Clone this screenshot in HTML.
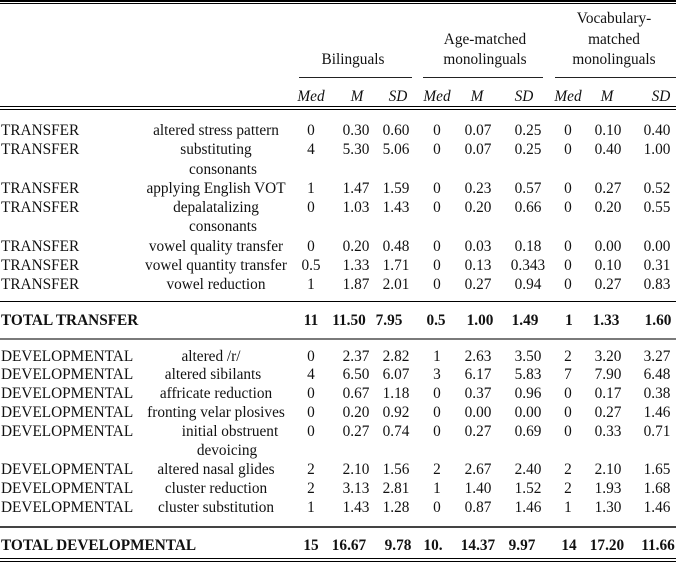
<!DOCTYPE html>
<html><head><meta charset="utf-8">
<style>
html,body{margin:0;padding:0;background:#fff;}
body{width:676px;height:564px;position:relative;overflow:hidden;font-family:"Liberation Serif","Times New Roman",serif;font-size:15.3px;color:#111;}
.r{position:absolute;left:0;width:676px;height:19px;line-height:19px;}
.r span{position:absolute;top:0;white-space:nowrap;text-align:center;width:80px;}
.r span.l{left:1px;text-align:left;width:auto;}
.r span.ds{left:136px;width:160px;}
.a{left:271px}.b{left:316px}.c{left:356px}.d{left:397px}.e{left:438px}.f{left:488px}.g{left:528px}.h{left:568px}.k{left:617px}
.bold{font-weight:bold;}
.i{font-style:italic;}
.hl{position:absolute;background:#000;left:0;width:676px;}
.t{position:absolute;white-space:nowrap;text-align:center;line-height:20px;}
</style></head><body>

<div class="hl" style="top:0;height:1.5px"></div>
<div class="hl" style="top:3px;height:1px"></div>

<div class="t" style="left:554px;width:120px;top:9px">Vocabulary-</div>
<div class="t" style="left:554px;width:120px;top:30px">matched</div>
<div class="t" style="left:554px;width:120px;top:50px">monolinguals</div>
<div class="t" style="left:425px;width:120px;top:30px">Age-matched</div>
<div class="t" style="left:425px;width:120px;top:50px">monolinguals</div>
<div class="t" style="left:293px;width:120px;top:50px">Bilinguals</div>

<div class="hl" style="top:77px;height:1.2px;left:299px;width:113px;background:#222"></div>
<div class="hl" style="top:77px;height:1.2px;left:423px;width:120px;background:#222"></div>
<div class="hl" style="top:77px;height:1.2px;left:555px;width:121px;background:#222"></div>

<div class="r i" style="top:87px"><span class="a">Med</span><span class="b" style="left:317px">M</span><span class="c" style="left:358px">SD</span><span class="d">Med</span><span class="e" style="left:437px">M</span><span class="f" style="left:484px">SD</span><span class="g">Med</span><span class="h" style="left:567px">M</span><span class="k" style="left:621px">SD</span></div>

<div class="hl" style="top:106px;height:1.3px"></div>
<div class="hl" style="top:109px;height:1px"></div>

<div class="r" style="top:121px"><span class="l">TRANSFER</span><span class="ds">altered stress pattern</span><span class="a">0</span><span class="b">0.30</span><span class="c">0.60</span><span class="d">0</span><span class="e">0.07</span><span class="f">0.25</span><span class="g">0</span><span class="h">0.10</span><span class="k">0.40</span></div>
<div class="r" style="top:140.25px"><span class="l">TRANSFER</span><span class="ds">substituting</span><span class="a">4</span><span class="b">5.30</span><span class="c">5.06</span><span class="d">0</span><span class="e">0.07</span><span class="f">0.25</span><span class="g">0</span><span class="h">0.40</span><span class="k">1.00</span></div>
<div class="r" style="top:159.5px"><span class="ds" style="left:143px">consonants</span></div>
<div class="r" style="top:178.75px"><span class="l">TRANSFER</span><span class="ds">applying English VOT</span><span class="a">1</span><span class="b">1.47</span><span class="c">1.59</span><span class="d">0</span><span class="e">0.23</span><span class="f">0.57</span><span class="g">0</span><span class="h">0.27</span><span class="k">0.52</span></div>
<div class="r" style="top:198px"><span class="l">TRANSFER</span><span class="ds">depalatalizing</span><span class="a">0</span><span class="b">1.03</span><span class="c">1.43</span><span class="d">0</span><span class="e">0.20</span><span class="f">0.66</span><span class="g">0</span><span class="h">0.20</span><span class="k">0.55</span></div>
<div class="r" style="top:217.25px"><span class="ds" style="left:143px">consonants</span></div>
<div class="r" style="top:236.5px"><span class="l">TRANSFER</span><span class="ds">vowel quality transfer</span><span class="a">0</span><span class="b">0.20</span><span class="c">0.48</span><span class="d">0</span><span class="e">0.03</span><span class="f">0.18</span><span class="g">0</span><span class="h">0.00</span><span class="k">0.00</span></div>
<div class="r" style="top:255.75px"><span class="l">TRANSFER</span><span class="ds">vowel quantity transfer</span><span class="a">0.5</span><span class="b">1.33</span><span class="c">1.71</span><span class="d">0</span><span class="e">0.13</span><span class="f">0.343</span><span class="g">0</span><span class="h">0.10</span><span class="k">0.31</span></div>
<div class="r" style="top:275px"><span class="l">TRANSFER</span><span class="ds">vowel reduction</span><span class="a">1</span><span class="b">1.87</span><span class="c">2.01</span><span class="d">0</span><span class="e">0.27</span><span class="f">0.94</span><span class="g">0</span><span class="h">0.27</span><span class="k">0.83</span></div>

<div class="hl" style="top:301px;height:1.2px"></div>

<div class="r bold" style="top:311px"><span class="l">TOTAL TRANSFER</span><span class="a">11</span><span class="b" style="left:309px">11.50</span><span class="c" style="left:349px">7.95</span><span class="d" style="left:396px">0.5</span><span class="e" style="left:440px">1.00</span><span class="f" style="left:485px">1.49</span><span class="g" style="left:529px">1</span><span class="h" style="left:566px">1.33</span><span class="k" style="left:618px">1.60</span></div>

<div class="hl" style="top:338px;height:1.8px;background:#7a7a7a"></div>

<div class="r" style="top:346.5px"><span class="l">DEVELOPMENTAL</span><span class="ds" style="left:131px">altered /r/</span><span class="a">0</span><span class="b">2.37</span><span class="c">2.82</span><span class="d">1</span><span class="e">2.63</span><span class="f">3.50</span><span class="g">2</span><span class="h">3.20</span><span class="k">3.27</span></div>
<div class="r" style="top:365.4px"><span class="l">DEVELOPMENTAL</span><span class="ds" style="left:133px">altered sibilants</span><span class="a">4</span><span class="b">6.50</span><span class="c">6.07</span><span class="d">3</span><span class="e">6.17</span><span class="f">5.83</span><span class="g">7</span><span class="h">7.90</span><span class="k">6.48</span></div>
<div class="r" style="top:384.3px"><span class="l">DEVELOPMENTAL</span><span class="ds">affricate reduction</span><span class="a">0</span><span class="b">0.67</span><span class="c">1.18</span><span class="d">0</span><span class="e">0.37</span><span class="f">0.96</span><span class="g">0</span><span class="h">0.17</span><span class="k">0.38</span></div>
<div class="r" style="top:403.2px"><span class="l">DEVELOPMENTAL</span><span class="ds">fronting velar plosives</span><span class="a">0</span><span class="b">0.20</span><span class="c">0.92</span><span class="d">0</span><span class="e">0.00</span><span class="f">0.00</span><span class="g">0</span><span class="h">0.27</span><span class="k">1.46</span></div>
<div class="r" style="top:422.1px"><span class="l">DEVELOPMENTAL</span><span class="ds" style="left:150px">initial obstruent</span><span class="a">0</span><span class="b">0.27</span><span class="c">0.74</span><span class="d">0</span><span class="e">0.27</span><span class="f">0.69</span><span class="g">0</span><span class="h">0.33</span><span class="k">0.71</span></div>
<div class="r" style="top:441px"><span class="ds" style="left:147px">devoicing</span></div>
<div class="r" style="top:459.9px"><span class="l">DEVELOPMENTAL</span><span class="ds">altered nasal glides</span><span class="a">2</span><span class="b">2.10</span><span class="c">1.56</span><span class="d">2</span><span class="e">2.67</span><span class="f">2.40</span><span class="g">2</span><span class="h">2.10</span><span class="k">1.65</span></div>
<div class="r" style="top:478.8px"><span class="l">DEVELOPMENTAL</span><span class="ds">cluster reduction</span><span class="a">2</span><span class="b">3.13</span><span class="c">2.81</span><span class="d">1</span><span class="e">1.40</span><span class="f">1.52</span><span class="g">2</span><span class="h">1.93</span><span class="k">1.68</span></div>
<div class="r" style="top:497.7px"><span class="l">DEVELOPMENTAL</span><span class="ds">cluster substitution</span><span class="a">1</span><span class="b">1.43</span><span class="c">1.28</span><span class="d">0</span><span class="e">0.87</span><span class="f">1.46</span><span class="g">1</span><span class="h">1.30</span><span class="k">1.46</span></div>

<div class="hl" style="top:526px;height:1.5px;background:#444"></div>

<div class="r bold" style="top:536px"><span class="l">TOTAL DEVELOPMENTAL</span><span class="a">15</span><span class="b" style="left:309px">16.67</span><span class="c" style="left:358px">9.78</span><span class="d" style="left:393px">10.</span><span class="e">14.37</span><span class="f" style="left:482px">9.97</span><span class="g" style="left:529px">14</span><span class="h" style="left:567px">17.20</span><span class="k" style="left:618px">11.66</span></div>

<div class="hl" style="top:557.5px;height:1.5px"></div>
<div class="hl" style="top:561px;height:1px"></div>
</body></html>
